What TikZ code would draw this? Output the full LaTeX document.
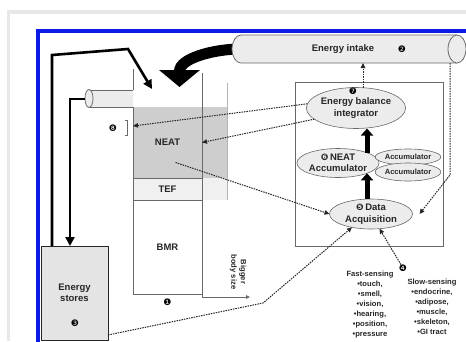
\documentclass[tikz,border=0pt]{standalone}
\usepackage{fontspec}
\setmainfont{Liberation Sans}
\newfontfamily\dingfont{DejaVu Sans}
\usepackage{xcolor}
\usetikzlibrary{arrows.meta, positioning, shapes.geometric}

\definecolor{frameblue}{RGB}{12,26,230}
\definecolor{framegray}{RGB}{232,232,232}
\definecolor{neatgray}{RGB}{206,206,206}
\definecolor{tefgray}{RGB}{240,240,240}
\definecolor{ovalgray}{RGB}{236,236,236}
\definecolor{storegray}{RGB}{228,228,228}
\definecolor{linegray}{RGB}{105,105,105}
\definecolor{inkgray}{RGB}{38,38,38}

\newcommand{\nr}[1]{{\dingfont\fontsize{9}{9}\selectfont #1}}

\begin{document}
\begin{tikzpicture}[
    x=1pt, y=-1pt,
    every node/.style={inner sep=0pt, outer sep=0pt, text=inkgray, font=\bfseries\fontsize{9.5}{11.5}\selectfont},
    oval/.style={ellipse, draw=linegray, line width=0.6pt, fill=ovalgray, align=center},
    smalltext/.style={align=center, font=\bfseries\fontsize{7.6}{10}\selectfont},
    bar/.style={draw=linegray, line width=0.8pt, minimum width=69pt},
    colline/.style={draw=linegray, line width=0.8pt},
    num/.style={font=\dingfont\fontsize{9}{9}\selectfont, text=black},
    fat/.style={line width=11pt, -{Triangle[length=17pt, width=40pt]}},
    heavy/.style={line width=2.6pt, -{Triangle[length=9pt, width=9pt]}},
    upstack/.style={line width=5pt, -{Triangle[length=7pt, width=12pt]}},
    dotarrow/.style={draw=inkgray, line width=1pt, dash pattern=on 1.5pt off 1pt, -{Triangle[length=5pt, width=4.5pt]}}
]

% Frame
\useasboundingbox (0,0) rectangle (466,341);
\fill[framegray] (7,10) rectangle (466,14);
\fill[framegray] (7,10) rectangle (10,341);
\draw[frameblue, line width=4pt] (38,343) -- (38,31) -- (468,31);

% Nodes
\node[minimum width=216pt, minimum height=28pt] (intake) at (349,49) {};

\fill[neatgray] (133,107) rectangle (227,178);
\fill[tefgray] (133,178) rectangle (227,200);
\draw[linegray!50, line width=0.8pt] (227,83) -- (227,200);
\node[bar, draw=none, fill=neatgray, minimum height=71pt] (neat) at (167.5,142.5) {NEAT};
\node[bar, fill=tefgray, minimum height=22pt, below=0pt of neat] (tef) {TEF};
\node[bar, fill=white, minimum height=94pt, below=0pt of tef] (bmr) {BMR};
\node[num, below=5pt of bmr] (n1) {❶};
\draw[colline] (neat.north west) -- (neat.south west);
\draw[colline] (neat.north east) -- (neat.south east);
\draw[colline] (neat.north west) ++(0,-17) -- ++(0,-21);
\draw[colline] (neat.north east) -- ++(0,-34);

% output pipe
\fill[ovalgray] (89,90) rectangle (133,107);
\draw[colline] (133,90) -- (89,90) (89,107) -- (133,107);
\draw[colline, fill=ovalgray] (89,98.5) ellipse [x radius=4pt, y radius=9pt];
\coordinate (pipeend) at (85,99);
\node[num] (n8) at (113,128) {❽};
\draw[linegray, line width=0.6pt] (125,120) -- (127,120) -- (127,135) -- (125,135);

\node[draw=inkgray, line width=1pt, fill=storegray, minimum width=67pt, minimum height=94pt] (stores) at (74.5,293) {};
\node[align=center] (storestext) at (74.5,293) {Energy\\stores};
\node[num] (n3) at (75,323) {❸};

\node[smalltext, rotate=-90, font=\bfseries\fontsize{7.6}{9.5}\selectfont] (bigger) at (238,272) {Bigger\\body size};
\coordinate (axisfrom) at (202,297);
\coordinate (axisto) at (250,297);

\node[draw=linegray, line width=0.6pt, minimum width=148pt, minimum height=164pt] (loop) at (369,164) {};
\node[oval, minimum width=98pt, minimum height=41pt] (integ) at (356,108) {Energy balance\\integrator};
\node[num] (n7) at ([xshift=-3pt, yshift=-4pt]integ.north) {❼};
\node[oval, minimum width=80pt, minimum height=29pt] (acc) at (338,163) {\nr{❻}\,NEAT\\Accumulator};
\node[oval, smalltext, minimum width=63pt, minimum height=16pt] (acc1) at (408,157) {Accumulator};
\node[oval, smalltext, minimum width=63pt, minimum height=18pt] (acc2) at (408,172) {Accumulator};
\node[oval, minimum width=83pt, minimum height=30pt] (data) at (371,214) {\nr{❺}\,Data\\Acquisition};

\node[num] (n4) at (403,268) {❹};
\node[smalltext] (fast) at (370,305) {Fast-sensing\\•touch,\\•smell,\\•vision,\\•hearing,\\•position,\\•pressure};
\node[smalltext] (slow) at (432,307) {Slow-sensing\\•endocrine,\\•adipose,\\•muscle,\\•skeleton,\\•GI tract};

\coordinate (loopA) at (52,55);
\coordinate (loopB) at (128,49);
\coordinate (neatin) at (152,89);
\coordinate (bend) at (263,303);

% Arrows
\draw[fat] (intake.west) to[out=180, in=90] ([shift={(12pt,20pt)}]neat.north);

% intake pipe
\draw[colline, fill=ovalgray] (intake.north east) -- (intake.north west)
    arc[start angle=90, end angle=270, x radius=9pt, y radius=14pt] -- (intake.south east);
\draw[colline, fill=ovalgray] (intake.east) ellipse [x radius=9pt, y radius=14pt];
\node (intaketext) at (343,49) {Energy intake};
\node[num] (n2) at (402,49) {❷};

\draw[heavy] ([xshift=-22.5pt]stores.north) -- (loopA) -- (loopB) -- (neatin);
\draw[heavy] (pipeend) -| ([xshift=-4.5pt]stores.north);
\draw[colline] (bmr.south east) -- (axisfrom);
\draw[colline, -{Triangle[length=4pt, width=3.5pt]}] (axisfrom) -- (axisto);

\draw[upstack] (acc.north east) -- (acc.north east |- integ.south);
\draw[upstack] (data.north -| acc.south east) -- (acc.south east);

\draw[dotarrow] ([xshift=7pt]integ.north) -- ([xshift=7pt]integ.north |- intake.south);
\draw[dotarrow] (integ.175) -- ([yshift=-19pt]neat.north west);
\draw[dotarrow] (integ.195) -- (neat.east);
\draw[dotarrow] ([shift={(8pt,-20pt)}]neat.center) -- (data.west);
\draw[dotarrow] ([yshift=5pt]stores.south east) -- (bend) -- (data.215);
\draw[dotarrow] ([xshift=-7pt]intake.south east) -- ++(0,112) -- ([xshift=7pt]data.east);
\draw[dotarrow] (n4) -- (data.-60);

\end{tikzpicture}
\end{document}
